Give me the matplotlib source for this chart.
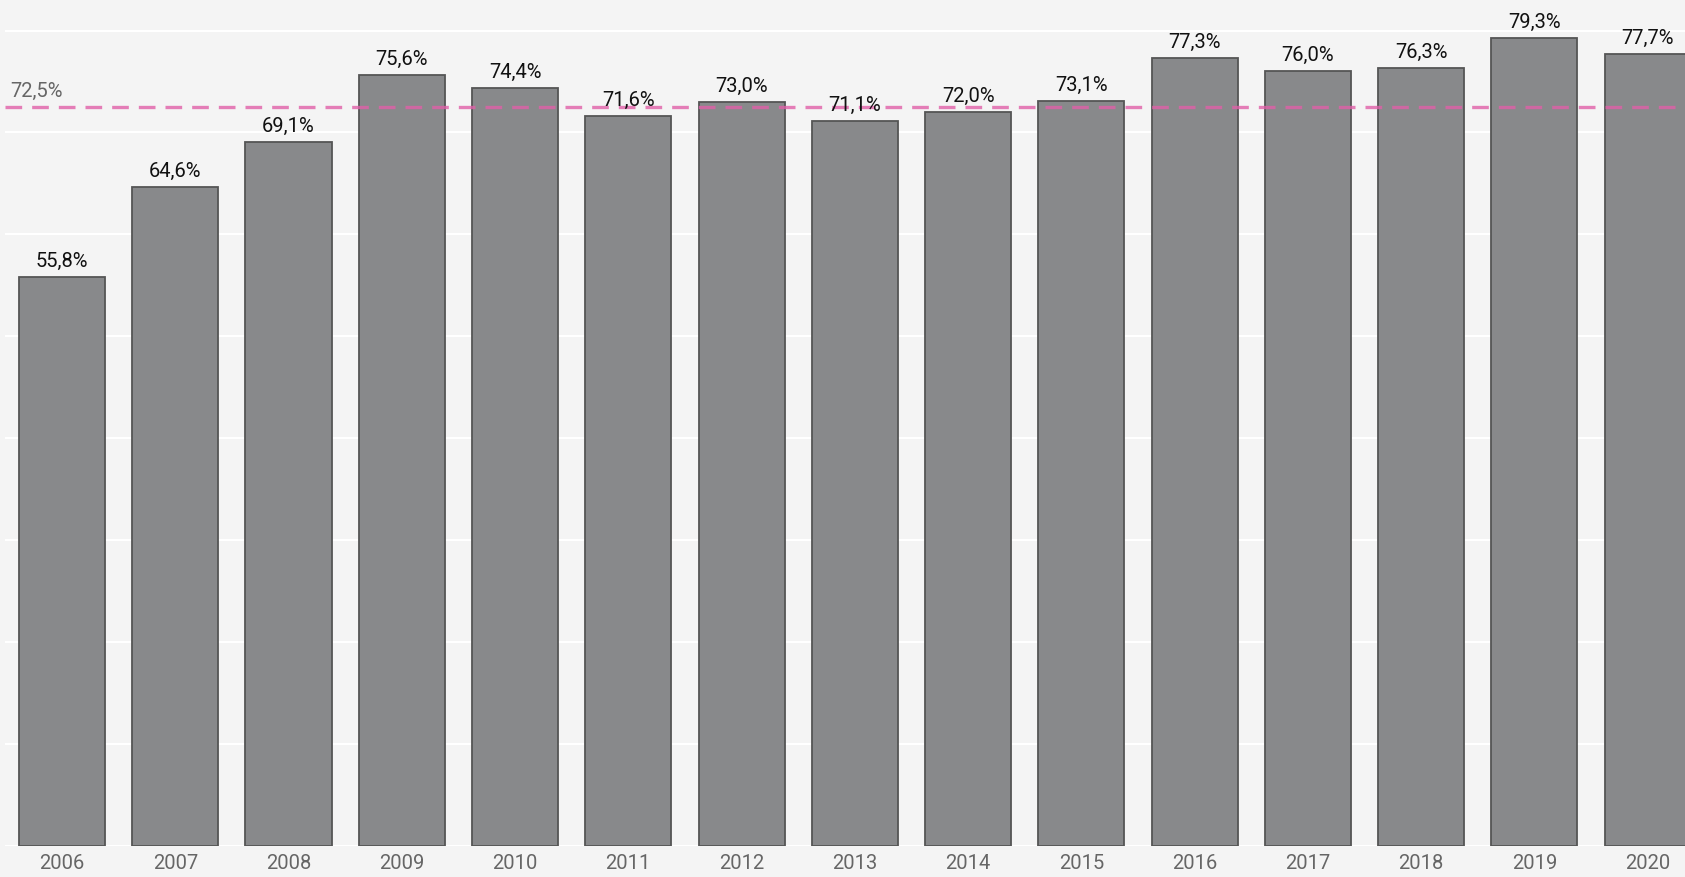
import numpy as np
import matplotlib.pyplot as plt

# data
years = ['2006', '2007', '2008', '2009', '2010', '2011', '2012', '2013',
         '2014', '2015', '2016', '2017', '2018', '2019', '2020']
values = [55.8, 64.6, 69.1, 75.6, 74.4, 71.6, 73.0, 71.1,
          72.0, 73.1, 77.3, 76.0, 76.3, 79.3, 77.7]
average = 72.5

plt.rcParams['font.family'] = ['Roboto', 'DejaVu Sans']

fig = plt.figure(figsize=(16.85, 8.77), dpi=100, facecolor='#f4f4f4')
ax = fig.add_axes([0.0032, 0.0356, 0.9968, 0.9644])
ax.set_facecolor('#f4f4f4')

x = np.arange(len(years))
ax.bar(x, values, width=0.76, color='#88898b', edgecolor='#555555',
       linewidth=1.3, zorder=2)

# data labels
for xi, v in zip(x, values):
    ax.text(xi, v + 0.6, f'{v:.1f}%'.replace('.', ','), ha='center', va='bottom',
            fontsize=14.5, color='#111111', zorder=4)

# average line
ax.axhline(average, color='#e060a8', linestyle=(0, (5, 3)), linewidth=2.4,
           alpha=0.8, zorder=3)
ax.text(0.003, average + 0.6, f'{average:.1f}%'.replace('.', ','),
        transform=ax.get_yaxis_transform(), ha='left', va='bottom',
        fontsize=14.5, color='#666666', zorder=4,
        bbox=dict(boxstyle='square,pad=0.15', facecolor='#f4f4f4', edgecolor='none'))

ax.set_xlim(-0.5, 14.33)
ax.set_ylim(0, 83)
ax.set_yticks(np.arange(0, 81, 10))
ax.yaxis.grid(True, color='white', linewidth=1.5, zorder=0)
ax.set_axisbelow(True)
ax.tick_params(axis='y', left=False, labelleft=False)
ax.set_xticks(x)
ax.set_xticklabels(years)
ax.tick_params(axis='x', length=0, labelsize=14.5, labelcolor='#666666', pad=6)
for s in ax.spines.values():
    s.set_visible(False)

plt.savefig('out.png', dpi=100, facecolor=fig.get_facecolor())
